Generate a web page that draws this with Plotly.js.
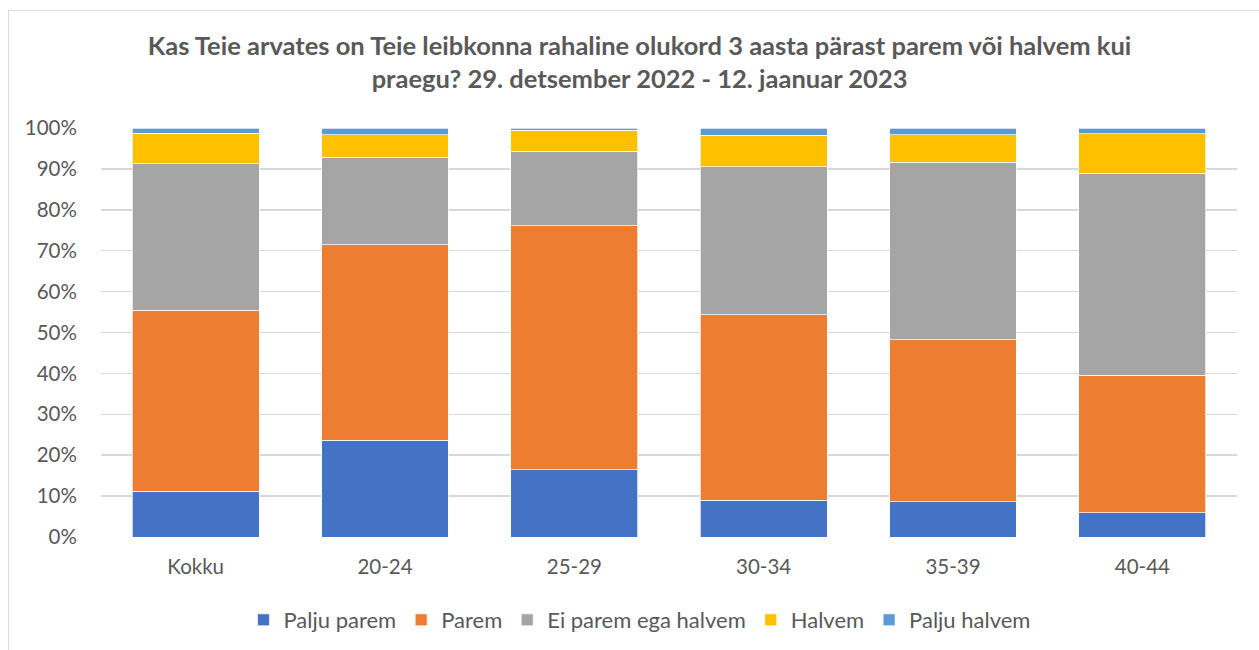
<!DOCTYPE html>
<html>
<head>
<meta charset="utf-8">
<script src="https://cdn.plot.ly/plotly-3.0.1.min.js"></script>
<style>
  html, body { margin: 0; padding: 0; background: #ffffff; }
  #wrap { position: relative; width: 1259px; height: 650px; overflow: hidden; }
  #chart { width: 1259px; height: 650px; }
  #frame { position: absolute; left: 8px; top: 10px; width: 1260px; height: 650px;
           border: 1px solid #d9d9d9; box-sizing: border-box; pointer-events: none; }
</style>
</head>
<body>
<div id="wrap">
  <div id="chart"></div>
  <div id="frame"></div>
</div>
<script>
// Categories
const categories = ["Kokku", "20-24", "25-29", "30-34", "35-39", "40-44"];
// Series values (shares, %)
const paljuParem   = [11.2, 23.6, 16.4,  9.0,  8.6,  5.9];
const parem        = [44.2, 47.9, 59.7, 45.4, 39.6, 33.7];
const eiParemEga   = [35.8, 21.3, 18.2, 36.1, 43.4, 49.3];
const halvem       = [ 7.5,  5.5,  5.1,  7.7,  6.7,  9.7];
const paljuHalvem  = [ 1.3,  1.7,  0.6,  1.8,  1.7,  1.4];
// Tick labels
const yTickVals  = [0, 0.1, 0.2, 0.3, 0.4, 0.5, 0.6, 0.7, 0.8, 0.9, 1.0];
const yTickText  = ["0%", "10%", "20%", "30%", "40%", "50%", "60%", "70%", "80%", "90%", "100%"];

const seriesNames  = ["Palju parem", "Parem", "Ei parem ega halvem", "Halvem", "Palju halvem"];
const seriesValues = [paljuParem, parem, eiParemEga, halvem, paljuHalvem];
const seriesColors = ["#4472C4", "#ED7D31", "#A5A5A5", "#FFC000", "#5B9BD5"];

// 100% stacked: normalise each category
const totals = categories.map((_, i) => seriesValues.reduce((s, arr) => s + arr[i], 0));

const traces = seriesNames.map((name, k) => ({
  type: "bar",
  name: name,
  x: categories,
  y: seriesValues[k].map((v, i) => v / totals[i]),
  marker: { color: seriesColors[k], line: { color: "#ffffff", width: 0.7 } },
  hoverinfo: "name+y"
}));

const fontFam = "Lato, 'Open Sans', 'DejaVu Sans', sans-serif";

const layout = {
  width: 1259,
  height: 650,
  paper_bgcolor: "#ffffff",
  plot_bgcolor: "#ffffff",
  barmode: "stack",
  bargap: 0.33,
  margin: { l: 101, r: 22, t: 128, b: 113, pad: 0, autoexpand: false },
  title: {
    text: "Kas Teie arvates on Teie leibkonna rahaline olukord 3 aasta pärast parem või halvem kui<br>praegu? 29. detsember 2022 - 12. jaanuar 2023",
    font: { family: fontFam, size: 25.5, color: "#595959", weight: "bold" },
    x: 0.508, xanchor: "center",
    y: 0.915, yanchor: "middle"
  },
  xaxis: {
    type: "category",
    showgrid: false,
    showline: false,
    zeroline: false,
    ticks: "outside",
    ticklen: 11,
    tickcolor: "rgba(0,0,0,0)",
    tickfont: { family: fontFam, size: 20.5, color: "#595959" },
    fixedrange: true
  },
  yaxis: {
    range: [0, 1],
    tickvals: yTickVals,
    ticktext: yTickText,
    showgrid: true,
    gridcolor: "#d9d9d9",
    gridwidth: 1.5,
    zeroline: false,
    showline: false,
    ticks: "outside",
    ticklen: 19,
    tickcolor: "rgba(0,0,0,0)",
    tickfont: { family: fontFam, size: 20.5, color: "#595959" },
    fixedrange: true
  },
  showlegend: true,
  legend: {
    orientation: "h",
    x: 0.474, xanchor: "center",
    y: -0.203, yanchor: "middle",
    font: { family: fontFam, size: 22, color: "#595959" },
    traceorder: "normal",
    itemwidth: 30
  }
};

Plotly.newPlot("chart", traces, layout, { displayModeBar: false, staticPlot: true });
</script>
</body>
</html>
